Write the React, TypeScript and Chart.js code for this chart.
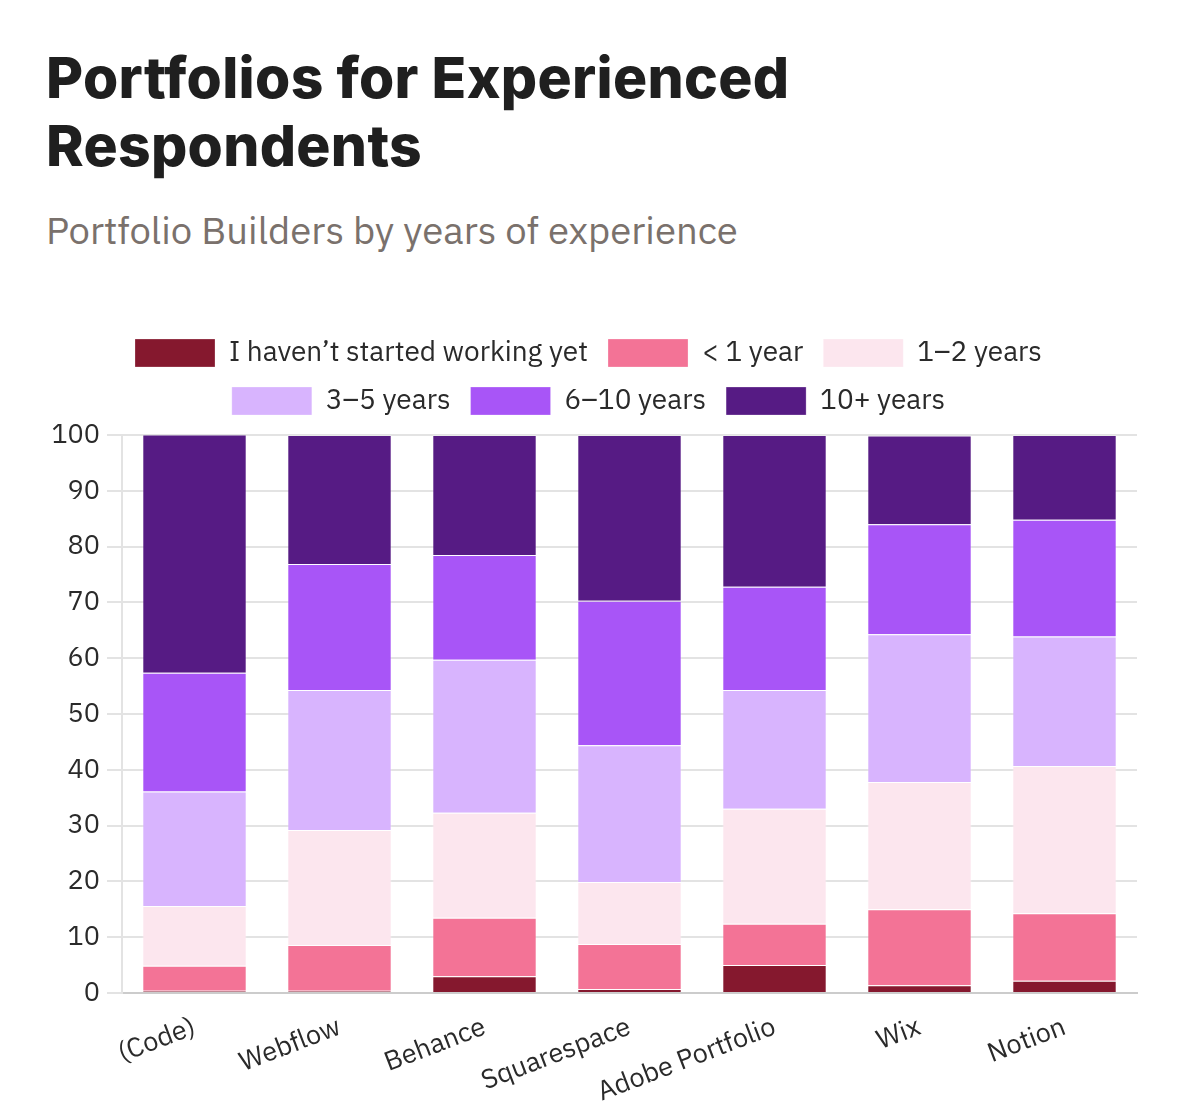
import React, { useEffect, useRef } from "react";
import { Chart, registerables } from "chart.js";

Chart.register(...registerables);

const categories = ["(Code)", "Webflow", "Behance", "Squarespace", "Adobe Portfolio", "Wix", "Notion"];
const seriesNames = ["I haven’t started working yet", "< 1 year", "1–2 years", "3–5 years", "6–10 years", "10+ years"];
const notStarted = [0.4, 0.4, 3.0, 0.7, 5.0, 1.4, 2.2];
const lessThan1 = [4.5, 8.2, 10.5, 8.1, 7.4, 13.6, 12.1];
const oneToTwo = [10.7, 20.6, 18.8, 11.1, 20.6, 22.8, 26.4];
const threeToFive = [20.5, 25.1, 27.4, 24.5, 21.3, 26.5, 23.2];
const sixToTen = [21.3, 22.6, 18.8, 25.9, 18.5, 19.7, 20.9];
const tenPlus = [42.7, 23.1, 21.5, 29.7, 27.2, 15.9, 15.2];
const colors = ["#85182e", "#f37396", "#fce6ee", "#d8b4fe", "#a855f7", "#561b84"];
const yTicks = [0, 10, 20, 30, 40, 50, 60, 70, 80, 90, 100];

const FONT = "'IBM Plex Sans', 'Noto Sans', sans-serif";

const legendSpacer = {
  id: "legendSpacer",
  beforeInit(chart: any) {
    const orig = chart.legend.fit;
    chart.legend.fit = function () {
      orig.bind(chart.legend)();
      this.height += 10;
    };
  },
};

export default function App() {
  const ref = useRef<HTMLCanvasElement | null>(null);
  useEffect(() => {
    if (!ref.current) return;
    const values = [notStarted, lessThan1, oneToTwo, threeToFive, sixToTen, tenPlus];
    const chart = new Chart(ref.current, {
      type: "bar",
      data: {
        labels: categories,
        datasets: seriesNames.map((name, i) => ({
          label: name,
          data: values[i],
          backgroundColor: colors[i],
          borderColor: "rgba(255,255,255,0.25)",
          borderWidth: 1,
        })),
      },
      plugins: [legendSpacer],
      options: {
        animation: false,
        responsive: false,
        maintainAspectRatio: false,
        layout: { padding: { left: 40, right: 55, top: 10, bottom: 8 } },
        plugins: {
          title: { display: false },
          tooltip: { enabled: false },
          legend: {
            position: "top",
            labels: {
              boxWidth: 80,
              boxHeight: 28,
              padding: 20,
              color: "#2a2a2a",
              font: { family: FONT, size: 28 },
            },
          },
        },
        scales: {
          x: {
            stacked: true,
            grid: { display: false, drawTicks: false },
            border: { color: "#cccccc", width: 2 },
            afterFit: (scale: any) => {
              scale.height = 119;
            },
            ticks: {
              color: "#2a2a2a",
              font: { family: FONT, size: 27 },
              minRotation: 21,
              maxRotation: 21,
              padding: 18,
            },
          },
          y: {
            stacked: true,
            min: 0,
            max: 100,
            afterBuildTicks: (scale: any) => {
              scale.ticks = yTicks.map((v) => ({ value: v }));
            },
            afterFit: (scale: any) => {
              scale.width = 82;
            },
            grid: { color: "#e3e3e3", lineWidth: 2, tickLength: 15 },
            border: { color: "#e3e3e3", width: 2 },
            ticks: {
              color: "#2a2a2a",
              font: { family: FONT, size: 27 },
              padding: 7,
            },
          },
        },
      },
    });
    return () => chart.destroy();
  }, []);

  return (
    <div style={{ position: "absolute", left: 0, top: 0, width: 1192, height: 1120, background: "#fff", overflow: "hidden" }}>
      <div
        style={{
          position: "absolute",
          left: 46,
          top: 44,
          fontFamily: "Inter, sans-serif",
          fontWeight: 800,
          fontSize: 57,
          lineHeight: "68px",
          letterSpacing: "0.3px",
          color: "#1f1f1f",
        }}
      >
        Portfolios for Experienced
        <br />
        Respondents
      </div>
      <div
        style={{
          position: "absolute",
          left: 46,
          top: 205,
          fontFamily: FONT,
          fontSize: 38.3,
          color: "#7a716c",
        }}
      >
        Portfolio Builders by years of experience
      </div>
      <canvas ref={ref} width={1192} height={811} style={{ position: "absolute", left: 0, top: 309 }} />
    </div>
  );
}
